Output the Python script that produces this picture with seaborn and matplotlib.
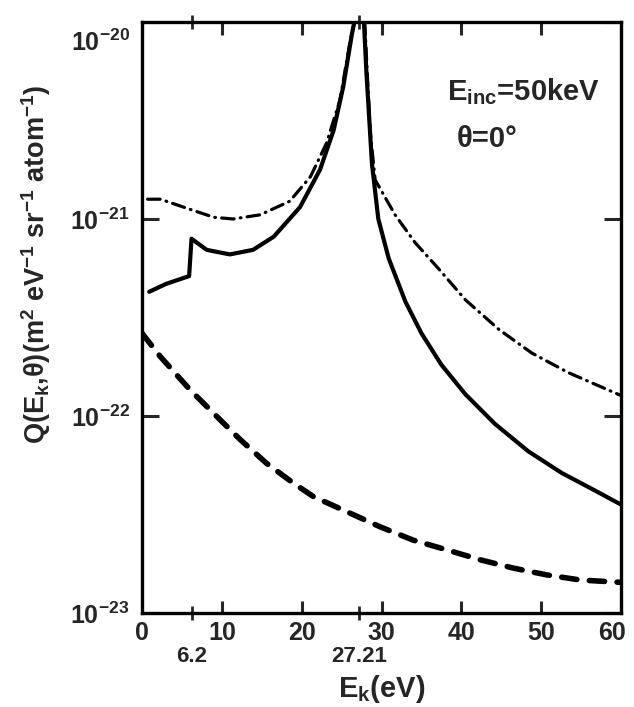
import matplotlib
matplotlib.use("Agg")
import matplotlib.pyplot as plt
import matplotlib.transforms as mtransforms
from matplotlib.ticker import FixedLocator, NullLocator
import seaborn as sns

# ---- data (x in eV, y in m^2 eV^-1 sr^-1 atom^-1) ----
solid_left_x = [0.9, 3.0, 5.9, 6.2, 8.1, 11.0, 13.9, 16.5, 19.8, 22.3, 24.0, 25.2, 26.3, 26.6]
solid_left_y = [4.27e-22, 4.68e-22, 5.13e-22, 7.94e-22, 6.97e-22, 6.61e-22, 6.97e-22,
                8.13e-22, 1.15e-21, 1.78e-21, 2.82e-21, 4.68e-21, 8.71e-21, 1.0e-20]

solid_right_x = [27.8, 28.1, 28.4, 28.8, 29.6, 30.9, 33.0, 35.0, 37.5, 40.5, 44.2, 48.4,
                 52.6, 56.8, 60.0]
solid_right_y = [1.0e-20, 5.62e-21, 3.55e-21, 1.91e-21, 1.0e-21, 6.31e-22, 3.80e-22,
                 2.63e-22, 1.82e-22, 1.29e-22, 9.12e-23, 6.61e-23, 5.13e-23, 4.17e-23,
                 3.55e-23]

dashdot_left_x = [0.7, 2.3, 6.0, 9.0, 11.4, 14.8, 18.5, 21.1, 23.1, 24.8, 26.1, 26.6]
dashdot_left_y = [1.26e-21, 1.26e-21, 1.12e-21, 1.02e-21, 1.0e-21, 1.05e-21, 1.23e-21,
                  1.64e-21, 2.42e-21, 4.02e-21, 8.13e-21, 1.0e-20]

dashdot_right_x = [27.9, 28.2, 28.6, 29.2, 31.7, 34.2, 37.1, 40.5, 44.7, 48.8, 53.4, 60.0]
dashdot_right_y = [1.0e-20, 5.62e-21, 2.75e-21, 1.58e-21, 1.05e-21, 7.59e-22, 5.62e-22,
                   3.89e-22, 2.75e-22, 2.09e-22, 1.66e-22, 1.27e-22]

dashed_x = [0.0, 2.3, 6.0, 9.8, 12.3, 15.6, 19.0, 21.5, 25.2, 29.8, 34.0, 38.2, 42.4,
            46.5, 50.7, 54.9, 60.0]
dashed_y = [2.63e-22, 2.0e-22, 1.36e-22, 9.55e-23, 7.59e-23, 5.75e-23, 4.55e-23, 3.89e-23,
            3.33e-23, 2.74e-23, 2.34e-23, 2.09e-23, 1.86e-23, 1.69e-23, 1.56e-23,
            1.47e-23, 1.43e-23]

x_major_ticks = [0, 10, 20, 30, 40, 50, 60]
x_major_labels = ["0", "10", "20", "30", "40", "50", "60"]
x_extra_ticks = [6.2, 27.21]
x_extra_labels = ["6.2", "27.21"]
y_ticks = [1e-23, 1e-22, 1e-21, 1e-20]
y_labels = [r"$10^{-23}$", r"$10^{-22}$", r"$10^{-21}$", r"$10^{-20}$"]

# ---- style ----
sns.set_style("ticks")
plt.rcParams['font.family'] = ['Liberation Sans', 'DejaVu Sans']
plt.rcParams['font.weight'] = 'bold'
plt.rcParams['mathtext.default'] = 'regular'
plt.rcParams['axes.linewidth'] = 2.4
plt.rcParams['lines.scale_dashes'] = False

fig = plt.figure(figsize=(6.34, 7.07), dpi=100)
ax = fig.add_axes([0.224, 0.133, 0.7555, 0.8359])

sns.lineplot(x=solid_left_x, y=solid_left_y, ax=ax, color="black", lw=3.0, estimator=None, sort=False)
sns.lineplot(x=solid_right_x, y=solid_right_y, ax=ax, color="black", lw=3.0, estimator=None, sort=False)
for ln in ax.lines:
    ln.set_solid_joinstyle("round")
n0 = len(ax.lines)
sns.lineplot(x=dashdot_left_x, y=dashdot_left_y, ax=ax, color="black", lw=2.3, estimator=None, sort=False)
sns.lineplot(x=dashdot_right_x, y=dashdot_right_y, ax=ax, color="black", lw=2.3, estimator=None, sort=False)
for ln in ax.lines[n0:]:
    ln.set_dashes([9, 4.5, 0.5, 4.5])
    ln.set_dash_capstyle("round")
n1 = len(ax.lines)
sns.lineplot(x=dashed_x, y=dashed_y, ax=ax, color="black", lw=4.0, estimator=None, sort=False)
for ln in ax.lines[n1:]:
    ln.set_dashes([11, 9])
    ln.set_dash_capstyle("round")

ax.set_yscale("log")
ax.set_xlim(0, 60)
ax.set_ylim(1e-23, 1e-20)

ax.xaxis.set_major_locator(FixedLocator(x_major_ticks))
ax.set_xticklabels(x_major_labels)
ax.xaxis.set_minor_locator(FixedLocator(x_extra_ticks))
ax.set_xticklabels(x_extra_labels, minor=True)
ax.yaxis.set_major_locator(FixedLocator(y_ticks))
ax.set_yticklabels(y_labels)
ax.yaxis.set_minor_locator(NullLocator())

ax.tick_params(axis="x", which="major", direction="in", length=9, width=2.2,
               top=True, bottom=True, labelsize=18, pad=6)
ax.tick_params(axis="x", which="minor", direction="inout", length=10, width=2.0,
               top=True, bottom=True, labelsize=16, pad=19)
ax.tick_params(axis="y", which="major", direction="in", length=12, width=2.2,
               left=True, right=True, labelsize=18, pad=9)

for s in ax.spines.values():
    s.set_visible(True)
    s.set_color("black")

ax.set_xlabel(r"E$_k$(eV)", fontsize=21, fontweight="bold")
ax.xaxis.set_label_coords(0.5, -0.102)
ax.set_ylabel(r"Q(E$_k$,θ)(m$^2$ eV$^{-1}$ sr$^{-1}$ atom$^{-1}$)", fontsize=19.5, fontweight="bold")
ax.yaxis.set_label_coords(-0.185, 0.59)

ax.text(0.637, 0.868, r"E$_{inc}$=50keV", transform=ax.transAxes, fontsize=21,
        fontweight="bold", va="baseline", ha="left")
ax.text(0.658, 0.789, "θ=0°", transform=ax.transAxes, fontsize=21,
        fontweight="bold", va="baseline", ha="left")

# top decade label sits lower than its tick in the reference
offset = mtransforms.ScaledTranslation(0, -0.18, fig.dpi_scale_trans)
top_lab = ax.yaxis.get_major_ticks()[3].label1
top_lab.set_transform(top_lab.get_transform() + offset)

# the last x label sits slightly left of its tick, inside the figure
offset_x = mtransforms.ScaledTranslation(-0.09, 0, fig.dpi_scale_trans)
last_lab = ax.xaxis.get_major_ticks()[6].label1
last_lab.set_transform(last_lab.get_transform() + offset_x)

fig.savefig("out.png", dpi=100)
